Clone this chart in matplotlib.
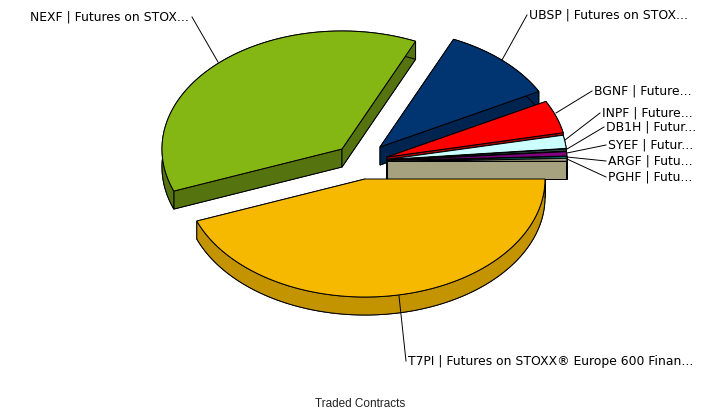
import numpy as np
import matplotlib
matplotlib.use("Agg")
import matplotlib.pyplot as plt
from matplotlib.patches import Polygon

labels = ["T7PI | Futures on STOXX® Europe 600 Finan...", "NEXF | Futures on STOX...", "UBSP | Futures on STOX...",
          "BGNF | Future...", "INPF | Future...", "DB1H | Futur...", "SYEF | Futur...", "ARGF | Futu...", "PGHF | Futu..."]
values = [44.2, 37.5, 10.5, 4.5, 1.8, 0.3, 0.6, 0.3, 0.3]
top_colors = ["#F7B900", "#85B714", "#003571", "#FF0000", "#CCFFFF", "#2F4F4F", "#800080", "#008080", "#F5F0C0"]
side_colors = ["#C49300", "#55730F", "#002450", "#A80000", "#9ACCCC", "#1F3535", "#5A005A", "#005A5A", "#A6A280"]
apex_x = [365, 342, 380, 387, 387, 387, 387, 387, 387]
apex_y = [179, 149, 147, 157, 159.5, 160, 160.5, 161, 161]
label_x = [408, 30, 529, 594, 602, 606, 608, 608, 608]
label_y = [361, 17, 15, 91, 113, 127, 145, 161, 177]
line_end_x = [399, 218, 502, 556, 565, 567, 567, 567, 567]
line_end_y = [296, 62, 60, 113, 140, 149, 153, 157, 159]
RX, RY, DEPTH = 180, 118, 18

fig = plt.figure(figsize=(7.15, 4.12), dpi=100)
ax = fig.add_axes([0, 0, 1, 1])
ax.set_xlim(0, 715)
ax.set_ylim(412, 0)
ax.axis("off")

fracs = np.array(values) / sum(values) * 360
ends = np.cumsum(fracs)
starts = ends - fracs
order = [1, 2, 3, 4, 5, 6, 7, 8, 0]

for i in order:
    t = np.radians(np.linspace(starts[i], ends[i], 120))
    ax_, ay_ = apex_x[i], apex_y[i]
    px = ax_ + RX * np.cos(t)
    py = ay_ + RY * np.sin(t)
    top = np.column_stack([np.r_[ax_, px], np.r_[ay_, py]])
    low = top + [0, DEPTH]
    z = 2 + order.index(i) * 0.1
    ax.add_patch(Polygon(low, closed=True, fc=side_colors[i], ec="black", lw=0.7, zorder=z))
    for k in (1, -1):
        a = top[0]
        b = top[k]
        quad = [a, b, b + [0, DEPTH], a + [0, DEPTH]]
        ax.add_patch(Polygon(quad, closed=True, fc=side_colors[i], ec="black", lw=0.7, zorder=z))
    strip = np.vstack([top[1:], low[1:][::-1]])
    ax.add_patch(Polygon(strip, closed=True, fc=side_colors[i], ec="black", lw=0.7, zorder=z))
    ax.add_patch(Polygon(top, closed=True, fc=top_colors[i], ec="black", lw=0.7, zorder=z + 0.05))

for i in range(len(labels)):
    right = label_x[i] > line_end_x[i]
    ax.plot([line_end_x[i], label_x[i] - 2 if right else label_x[i] + 162], [line_end_y[i], label_y[i]],
            color="black", lw=0.7, zorder=5)
    ax.text(label_x[i], label_y[i], labels[i], fontsize=8.95, family="DejaVu Sans", va="center", ha="left", zorder=6)

ax.text(360, 404, "Traded Contracts", fontsize=8.5, family="Liberation Sans", ha="center", va="center", color="#222222")
fig.savefig("out.png", dpi=100)
